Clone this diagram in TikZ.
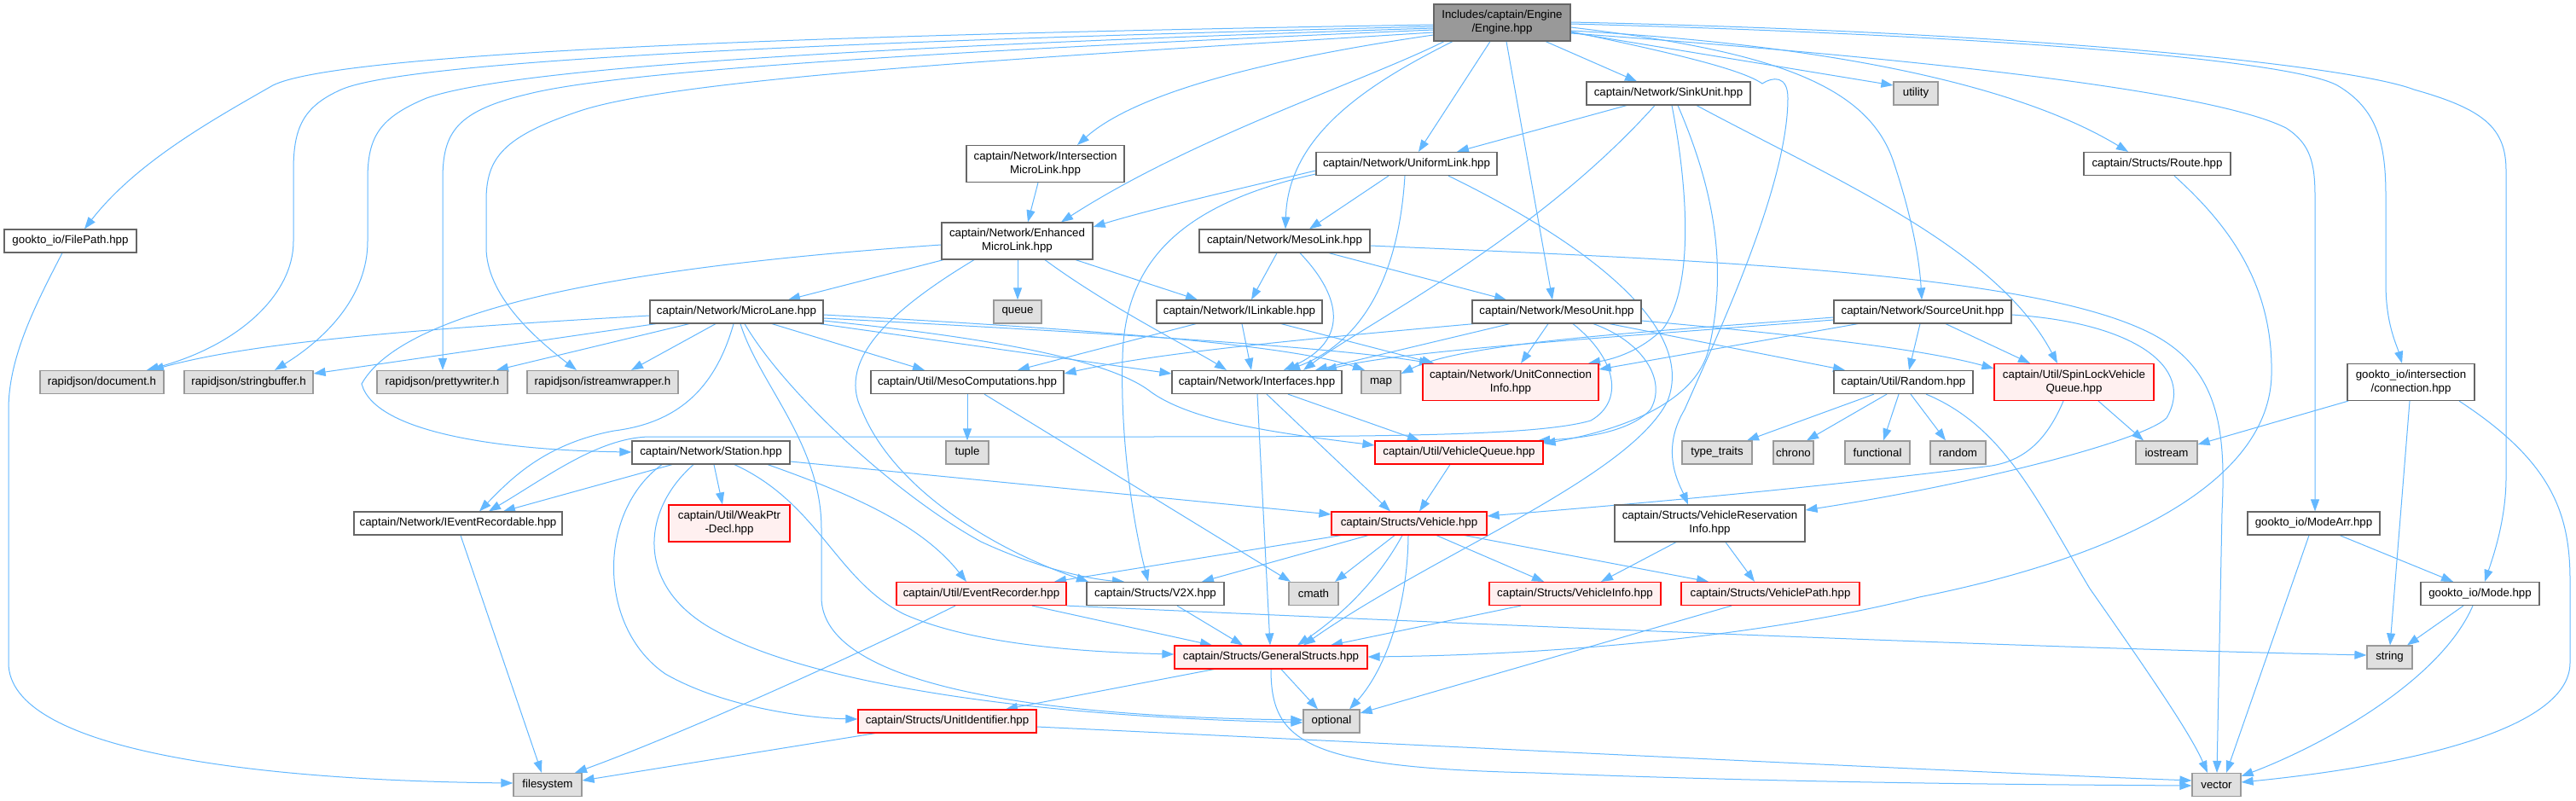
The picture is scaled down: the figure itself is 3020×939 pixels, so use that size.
\documentclass[tikz,border=0pt]{standalone}
\usepackage{fontspec}
\setmainfont{Liberation Sans}
\usetikzlibrary{arrows.meta}
\definecolor{edgeblue}{HTML}{63B8FF}
\definecolor{boxline}{HTML}{666666}
\definecolor{sysline}{HTML}{999999}
\definecolor{sysfill}{HTML}{E0E0E0}
\definecolor{redline}{HTML}{FF0000}
\definecolor{redfill}{HTML}{FFF0F0}
\definecolor{mainfill}{HTML}{999999}
\pgfdeclarelayer{bg}
\pgfsetlayers{bg,main}
\begin{document}
\begin{tikzpicture}[x=1pt,y=-1pt,
  plainbox/.style={draw=boxline, line width=1.2pt, fill=white, inner sep=0pt, minimum height=27pt,
    font=\fontsize{13.3pt}{16pt}\selectfont, align=center, text=black},
  sysbox/.style={plainbox, draw=sysline, fill=sysfill},
  redbox/.style={plainbox, draw=redline, fill=redfill},
  mainbox/.style={plainbox, fill=mainfill},
  twoline/.style={minimum height=43pt},
  dep/.style={draw=edgeblue, line width=1pt, -{Triangle[length=14pt,width=10pt]}}]

\useasboundingbox (0,0) rectangle (3020,939);

% ---------------- nodes ----------------
\node[mainbox, twoline, minimum width=160pt] (engine) at (1761,26.5) {Includes/captain/Engine\\/Engine.hpp};
\node[plainbox, minimum width=192pt] (sinkunit) at (1956,109.5) {captain/Network/SinkUnit.hpp};
\node[sysbox, minimum width=52pt] (utility) at (2246,109.5) {utility};
\node[plainbox, twoline, minimum width=185pt] (intermicro) at (1225.5,192) {captain/Network/Intersection\\MicroLink.hpp};
\node[plainbox, minimum width=212pt] (uniformlink) at (1649,192) {captain/Network/UniformLink.hpp};
\node[plainbox, minimum width=172pt] (route) at (2529,192) {captain/Structs/Route.hpp};
\node[plainbox, minimum width=155pt] (filepath) at (82.5,282.5) {gookto\_io/FilePath.hpp};
\node[plainbox, twoline, minimum width=177pt] (enhanced) at (1192.5,282.5) {captain/Network/Enhanced\\MicroLink.hpp};
\node[plainbox, minimum width=200pt] (mesolink) at (1506,282.5) {captain/Network/MesoLink.hpp};
\node[plainbox, minimum width=203pt] (microlane) at (863.5,365.5) {captain/Network/MicroLane.hpp};
\node[sysbox, minimum width=56pt] (queue) at (1193,365.5) {queue};
\node[plainbox, minimum width=194pt] (ilinkable) at (1453,365.5) {captain/Network/ILinkable.hpp};
\node[plainbox, minimum width=198pt] (mesounit) at (1825,365.5) {captain/Network/MesoUnit.hpp};
\node[plainbox, minimum width=208pt] (sourceunit) at (2254,365.5) {captain/Network/SourceUnit.hpp};

\node[sysbox, minimum width=145pt] (document) at (119.5,448) {rapidjson/document.h};
\node[sysbox, minimum width=151pt] (stringbuffer) at (291.5,448) {rapidjson/stringbuffer.h};
\node[sysbox, minimum width=153pt] (prettywriter) at (518.5,448) {rapidjson/prettywriter.h};
\node[sysbox, minimum width=177pt] (istreamwrapper) at (706.5,448) {rapidjson/istreamwrapper.h};
\node[plainbox, minimum width=226pt] (mesocomp) at (1134,448) {captain/Util/MesoComputations.hpp};
\node[plainbox, minimum width=199pt] (interfaces) at (1473.5,448) {captain/Network/Interfaces.hpp};
\node[sysbox, minimum width=46pt] (map) at (1619,448) {map};
\node[redbox, twoline, minimum width=206pt] (uci) at (1771,448) {captain/Network/UnitConnection\\Info.hpp};
\node[plainbox, minimum width=163pt] (randomh) at (2231.5,448) {captain/Util/Random.hpp};
\node[redbox, twoline, minimum width=187pt] (spinlock) at (2431.5,448) {captain/Util/SpinLockVehicle\\Queue.hpp};
\node[plainbox, twoline, minimum width=149pt] (connection) at (2826.5,448) {gookto\_io/intersection\\/connection.hpp};

\node[plainbox, minimum width=185pt] (station) at (833.5,530.5) {captain/Network/Station.hpp};
\node[sysbox, minimum width=50pt] (tuple) at (1134,530.5) {tuple};
\node[redbox, minimum width=197pt] (vqueue) at (1710.5,530.5) {captain/Util/VehicleQueue.hpp};
\node[sysbox, minimum width=82pt] (typetraits) at (2013,530.5) {type\_traits};
\node[sysbox, minimum width=47pt] (chrono) at (2102.5,530.5) {chrono};
\node[sysbox, minimum width=76pt] (functional) at (2201,530.5) {functional};
\node[sysbox, minimum width=65pt] (stdrandom) at (2295.5,530.5) {random};
\node[sysbox, minimum width=72pt] (iostream) at (2540,530.5) {iostream};

\node[plainbox, minimum width=244pt] (ievent) at (537,613.5) {captain/Network/IEventRecordable.hpp};
\node[redbox, twoline, minimum width=142pt] (weakptr) at (855,613.5) {captain/Util/WeakPtr\\-Decl.hpp};
\node[redbox, minimum width=182pt] (vehicle) at (1652,613.5) {captain/Structs/Vehicle.hpp};
\node[plainbox, twoline, minimum width=223pt] (vri) at (2004.5,613.5) {captain/Structs/VehicleReservation\\Info.hpp};
\node[plainbox, minimum width=155pt] (modearr) at (2712.5,613.5) {gookto\_io/ModeArr.hpp};

\node[redbox, minimum width=199pt] (eventrec) at (1150.5,696) {captain/Util/EventRecorder.hpp};
\node[plainbox, minimum width=161pt] (v2x) at (1354.5,696) {captain/Structs/V2X.hpp};
\node[sysbox, minimum width=58pt] (cmath) at (1540,696) {cmath};
\node[redbox, minimum width=201pt] (vinfo) at (1846.5,696) {captain/Structs/VehicleInfo.hpp};
\node[redbox, minimum width=209pt] (vpath) at (2075.5,696) {captain/Structs/VehiclePath.hpp};
\node[plainbox, minimum width=139pt] (mode) at (2907.5,696) {gookto\_io/Mode.hpp};

\node[redbox, minimum width=226pt] (general) at (1490,770.5) {captain/Structs/GeneralStructs.hpp};
\node[sysbox, minimum width=53pt] (string) at (2801.5,770.5) {string};
\node[redbox, minimum width=209pt] (unitid) at (1110.5,845.5) {captain/Structs/UnitIdentifier.hpp};
\node[sysbox, minimum width=66pt] (optional) at (1561,845.5) {optional};
\node[sysbox, minimum width=80pt] (filesystem) at (642,920) {filesystem};
\node[sysbox, minimum width=57pt] (vector) at (2598.5,920) {vector};

% ---------------- edges ----------------
\begin{pgfonlayer}{bg}
\fill[white] (0,0) rectangle (3020,939);
% Engine
\draw[dep] (engine.west |- 0,29) .. controls (1000,40) and (400,60) .. (320,100) .. controls (250,140) and (160,190) .. (filepath.north -| 99,0);
\draw[dep] (engine.west |- 0,31) .. controls (1000,48) and (480,70) .. (400,105) .. controls (355,125) and (344,150) .. (344,200) -- (344,283) .. controls (344,345) and (280,405) .. (document.north -| 172,0);
\draw[dep] (engine.west |- 0,33) .. controls (1000,55) and (600,80) .. (500,115) .. controls (445,138) and (431,160) .. (431,210) -- (431,283) .. controls (431,345) and (385,395) .. (stringbuffer.north -| 322,0);
\draw[dep] (engine.west |- 0,35) .. controls (1050,62) and (720,85) .. (620,110) .. controls (535,130) and (519,155) .. (519,210) -- (prettywriter.north -| 519,0);
\draw[dep] (engine.west |- 0,38) .. controls (1250,65) and (800,90) .. (680,130) .. controls (590,160) and (570,185) .. (570,235) -- (570,290) .. controls (570,345) and (625,395) .. (istreamwrapper.north -| 676,0);
\draw[dep] (engine.west |- 0,41) .. controls (1480,70) and (1330,110) .. (intermicro.north -| 1263,0);
\draw[dep] (engine.south -| 1693,0) .. controls (1600,95) and (1400,160) .. (enhanced.north -| 1244,0);
\draw[dep] (engine.south -| 1703,0) .. controls (1600,100) and (1510,160) .. (mesolink.north -| 1507,0);
\draw[dep] (engine.south -| 1747,0) -- (uniformlink.north -| 1663,0);
\draw[dep] (engine.south -| 1766,0) -- (mesounit.north -| 1820,0);
\draw[dep] (engine.south -| 1812,0) -- (sinkunit.north -| 1919,0);
\draw[dep] (engine.east |- 0,38) -- (utility.west |- 0,100);
\draw[dep] (engine.east |- 0,32) .. controls (2080,60) and (2190,100) .. (2220,190) .. controls (2240,250) and (2250,300) .. (sourceunit.north -| 2253,0);
\draw[dep] (engine.east |- 0,36) .. controls (2100,50) and (2350,90) .. (route.north -| 2495,0);
\draw[dep] (engine.east |- 0,37) .. controls (1950,60) and (2040,80) .. (2066,98) .. controls (2078,90) and (2096,88) .. (2096,115) .. controls (2096,220) and (2010,400) .. (1975,480) .. controls (1945,530) and (1970,570) .. (vri.north -| 1979,0);
\draw[dep] (engine.east |- 0,39) .. controls (2300,72) and (2600,110) .. (2680,150) .. controls (2708,168) and (2714,190) .. (2714,230) -- (modearr.north -| 2714,0);
\draw[dep] (engine.east |- 0,28) .. controls (2300,40) and (2680,68) .. (2740,100) .. controls (2788,128) and (2797,170) .. (2797,230) -- (2797,333) .. controls (2797,380) and (2810,405) .. (connection.north -| 2816,0);
\draw[dep] (engine.east |- 0,26) .. controls (2400,38) and (2760,78) .. (2830,105) .. controls (2912,128) and (2938,150) .. (2938,200) -- (2938,560) .. controls (2938,610) and (2922,655) .. (mode.north -| 2913,0);
% SinkUnit
\draw[dep] (sinkunit.south -| 1907,0) -- (uniformlink.north -| 1708,0);
\draw[dep] (sinkunit.south -| 1940,0) .. controls (1800,280) and (1600,380) .. (interfaces.north -| 1528,0);
\draw[dep] (sinkunit.south -| 1960,0) .. controls (1975,200) and (1990,330) .. (1950,385) .. controls (1920,415) and (1885,422) .. (uci.north -| 1862,0);
\draw[dep] (sinkunit.south -| 1967,0) .. controls (2000,200) and (2030,300) .. (2003,410) .. controls (1985,480) and (1880,508) .. (vqueue.east |- 0,520);
\draw[dep] (sinkunit.south -| 1989,0) .. controls (2150,210) and (2340,290) .. (spinlock.north -| 2412,0);
% IntersectionMicroLink
\draw[dep] (intermicro.south -| 1217,0) -- (enhanced.north -| 1205,0);
% UniformLink
\draw[dep] (uniformlink.west |- 0,200) .. controls (1450,222) and (1350,245) .. (enhanced.east |- 0,266);
\draw[dep] (uniformlink.south -| 1628,0) -- (mesolink.north -| 1535,0);
\draw[dep] (uniformlink.south -| 1647,0) .. controls (1640,320) and (1600,400) .. (interfaces.north -| 1510,0);
\draw[dep] (uniformlink.west |- 0,204) .. controls (1380,240) and (1318,310) .. (1316,420) .. controls (1313,520) and (1330,620) .. (v2x.north -| 1346,0);
\draw[dep] (uniformlink.south -| 1698,0) .. controls (1850,280) and (1990,380) .. (1955,470) .. controls (1910,560) and (1680,650) .. (general.north -| 1528,0);
% Route
\draw[dep] (route.south -| 2549,0) .. controls (2620,270) and (2665,340) .. (2663,440) .. controls (2660,560) and (2500,650) .. (2250,700) .. controls (2050,750) and (1800,768) .. (general.east |- 0,770);
% FilePath
\draw[dep] (filepath.south -| 73,0) .. controls (40,360) and (10,420) .. (10,480) -- (10,777) .. controls (10,880) and (300,915) .. (filesystem.west |- 0,918);
% EnhancedMicroLink
\draw[dep] (enhanced.south -| 1106,0) -- (microlane.north -| 924,0);
\draw[dep] (enhanced.south -| 1193,0) -- (queue.north);
\draw[dep] (enhanced.south -| 1261,0) -- (ilinkable.north -| 1404,0);
\draw[dep] (enhanced.south -| 1225,0) .. controls (1300,360) and (1400,410) .. (interfaces.north -| 1438,0);
\draw[dep] (enhanced.south -| 1142,0) .. controls (1050,360) and (980,420) .. (1010,480) .. controls (1050,580) and (1180,650) .. (v2x.north -| 1276,0);
\draw[dep] (enhanced.west |- 0,287) .. controls (800,308) and (480,350) .. (424,450) .. controls (440,510) and (600,528) .. (station.west |- 0,530);
% MesoLink
\draw[dep] (mesolink.south -| 1497,0) -- (ilinkable.north -| 1467,0);
\draw[dep] (mesolink.south -| 1524,0) .. controls (1575,350) and (1580,400) .. (interfaces.north -| 1505,0);
\draw[dep] (mesolink.south -| 1558,0) -- (mesounit.north -| 1766,0);
\draw[dep] (mesolink.east |- 0,288) .. controls (2000,305) and (2380,320) .. (2520,390) .. controls (2600,430) and (2610,500) .. (2605,600) -- (vector.north -| 2599,0);
% MicroLane
\draw[dep] (microlane.west |- 0,370) .. controls (500,385) and (300,400) .. (document.north -| 178,0);
\draw[dep] (microlane.south -| 769,0) -- (stringbuffer.east |- 0,438);
\draw[dep] (microlane.south -| 808,0) -- (prettywriter.north -| 582,0);
\draw[dep] (microlane.south -| 839,0) -- (istreamwrapper.north -| 740,0);
\draw[dep] (microlane.south -| 905,0) -- (mesocomp.north -| 1084,0);
\draw[dep] (microlane.south -| 961,0) -- (interfaces.west |- 0,438);
\draw[dep] (microlane.east |- 0,369) .. controls (1200,382) and (1500,400) .. (map.north -| 1600,0);
\draw[dep] (microlane.east |- 0,373) .. controls (1250,388) and (1550,405) .. (uci.north -| 1678,0);
\draw[dep] (microlane.east |- 0,376) .. controls (1150,395) and (1300,420) .. (1350,460) .. controls (1400,495) and (1500,508) .. (vqueue.west |- 0,522);
\draw[dep] (microlane.south -| 860,0) .. controls (840,450) and (800,495) .. (720,505) .. controls (640,520) and (600,560) .. (ievent.north -| 562,0);
\draw[dep] (microlane.south -| 868,0) .. controls (890,450) and (963,520) .. (963,620) -- (963,700) .. controls (963,800) and (1200,840) .. (optional.west |- 0,844);
\draw[dep] (microlane.south -| 873,0) .. controls (920,460) and (1050,580) .. (1150,635) .. controls (1230,672) and (1290,680) .. (v2x.north -| 1318,0);
% ILinkable
\draw[dep] (ilinkable.south -| 1402,0) -- (mesocomp.north -| 1193,0);
\draw[dep] (ilinkable.south -| 1456,0) -- (interfaces.north -| 1467,0);
\draw[dep] (ilinkable.south -| 1502,0) -- (uci.north -| 1681,0);
% MesoUnit
\draw[dep] (mesounit.south -| 1728,0) .. controls (1500,400) and (1350,415) .. (mesocomp.east |- 0,438);
\draw[dep] (mesounit.south -| 1770,0) -- (interfaces.north -| 1542,0);
\draw[dep] (mesounit.south -| 1815,0) -- (uci.north -| 1783,0);
\draw[dep] (mesounit.south -| 1868,0) .. controls (1925,400) and (1955,445) .. (1935,480) .. controls (1910,508) and (1850,514) .. (vqueue.north -| 1803,0);
\draw[dep] (mesounit.south -| 1844,0) .. controls (1895,420) and (1905,470) .. (1865,493) .. controls (1800,512) and (1600,512) .. (1300,512) -- (760,512) .. controls (700,514) and (640,560) .. (ievent.north -| 573,0);
\draw[dep] (mesounit.south -| 1887,0) -- (randomh.north -| 2163,0);
\draw[dep] (mesounit.east |- 0,376) .. controls (2100,392) and (2250,408) .. (spinlock.west |- 0,432);
% SourceUnit
\draw[dep] (sourceunit.west |- 0,372) .. controls (1950,388) and (1720,400) .. (map.east |- 0,438);
\draw[dep] (sourceunit.west |- 0,375) .. controls (1900,395) and (1650,410) .. (interfaces.north -| 1553,0);
\draw[dep] (sourceunit.south -| 2178,0) -- (uci.east |- 0,433);
\draw[dep] (sourceunit.south -| 2251,0) -- (randomh.north -| 2238,0);
\draw[dep] (sourceunit.south -| 2281,0) -- (spinlock.north -| 2380,0);
\draw[dep] (sourceunit.east |- 0,369) .. controls (2500,378) and (2575,430) .. (2540,490) .. controls (2515,515) and (2330,565) .. (vri.east |- 0,598);
% Random
\draw[dep] (randomh.south -| 2197,0) -- (typetraits.north -| 2048,0);
\draw[dep] (randomh.south -| 2212,0) -- (chrono.north -| 2118,0);
\draw[dep] (randomh.south -| 2226,0) -- (functional.north -| 2208,0);
\draw[dep] (randomh.south -| 2240,0) -- (stdrandom.north -| 2281,0);
\draw[dep] (randomh.south -| 2258,0) .. controls (2350,500) and (2390,590) .. (2450,690) .. controls (2520,790) and (2568,860) .. (vector.north -| 2588,0);
% SpinLockVehicleQueue
\draw[dep] (spinlock.south -| 2419,0) .. controls (2398,520) and (2370,540) .. (2335,546) .. controls (2100,575) and (1900,592) .. (vehicle.east |- 0,605);
\draw[dep] (spinlock.south -| 2460,0) -- (iostream.north -| 2513,0);
% connection
\draw[dep] (connection.south -| 2753,0) -- (iostream.east |- 0,521);
\draw[dep] (connection.south -| 2825,0) -- (string.north -| 2802,0);
\draw[dep] (connection.south -| 2883,0) .. controls (2990,540) and (3013,600) .. (3013,680) -- (3013,777) .. controls (3013,860) and (2800,900) .. (vector.east |- 0,917);
% ModeArr / Mode
\draw[dep] (modearr.south -| 2743,0) -- (mode.north -| 2876,0);
\draw[dep] (modearr.south -| 2707,0) -- (vector.north -| 2610,0);
\draw[dep] (mode.south -| 2888,0) -- (string.north -| 2822,0);
\draw[dep] (mode.south -| 2899,0) .. controls (2860,800) and (2720,875) .. (vector.east |- 0,910);
% Station
\draw[dep] (station.south -| 788,0) -- (ievent.north -| 590,0);
\draw[dep] (station.south -| 837,0) -- (weakptr.north -| 847,0);
\draw[dep] (station.south -| 900,0) .. controls (1000,580) and (1080,615) .. (eventrec.north -| 1133,0);
\draw[dep] (station.south -| 861,0) .. controls (960,590) and (980,680) .. (1060,720) .. controls (1150,760) and (1300,765) .. (general.west |- 0,767);
\draw[dep] (station.east |- 0,541) -- (vehicle.west |- 0,603);
\draw[dep] (station.south -| 813,0) .. controls (750,600) and (745,690) .. (840,740) .. controls (950,800) and (1200,840) .. (optional.west |- 0,847);
\draw[dep] (station.south -| 776,0) .. controls (700,600) and (700,735) .. (780,790) .. controls (850,830) and (950,842) .. (unitid.west |- 0,843);
% VehicleQueue / Interfaces
\draw[dep] (vqueue.south -| 1700,0) -- (vehicle.north -| 1664,0);
\draw[dep] (interfaces.south -| 1510,0) -- (vqueue.north -| 1664,0);
\draw[dep] (interfaces.south -| 1485,0) -- (vehicle.north -| 1630,0);
\draw[dep] (interfaces.south -| 1474,0) -- (general.north -| 1489,0);
% Vehicle
\draw[dep] (vehicle.south -| 1572,0) -- (eventrec.north -| 1236,0);
\draw[dep] (vehicle.south -| 1604,0) -- (v2x.north -| 1409,0);
\draw[dep] (vehicle.south -| 1635,0) -- (cmath.north -| 1565,0);
\draw[dep] (vehicle.south -| 1644,0) .. controls (1610,690) and (1560,730) .. (general.north -| 1521,0);
\draw[dep] (vehicle.south -| 1651,0) .. controls (1650,720) and (1620,790) .. (optional.north -| 1582,0);
\draw[dep] (vehicle.south -| 1684,0) -- (vinfo.north -| 1810,0);
\draw[dep] (vehicle.south -| 1717,0) -- (vpath.north -| 2003,0);
% VehicleReservationInfo
\draw[dep] (vri.south -| 1965,0) -- (vinfo.north -| 1877,0);
\draw[dep] (vri.south -| 2023,0) -- (vpath.north -| 2057,0);
% MesoComputations
\draw[dep] (mesocomp.south) -- (tuple.north);
\draw[dep] (mesocomp.south -| 1154,0) -- (cmath.north -| 1513,0);
% EventRecorder
\draw[dep] (eventrec.south -| 1210,0) -- (general.north -| 1421,0);
\draw[dep] (eventrec.south east) .. controls (1800,735) and (2400,760) .. (string.west |- 0,768);
\draw[dep] (eventrec.south -| 1120,0) .. controls (1000,770) and (800,860) .. (filesystem.north -| 674,0);
% V2X, VehicleInfo, VehiclePath
\draw[dep] (v2x.south -| 1380,0) -- (general.north -| 1457,0);
\draw[dep] (vinfo.south -| 1783,0) -- (general.north -| 1560,0);
\draw[dep] (vpath.south -| 2030,0) -- (optional.east |- 0,836);
% GeneralStructs
\draw[dep] (general.south -| 1423,0) -- (unitid.north -| 1179,0);
\draw[dep] (general.south -| 1502,0) -- (optional.north -| 1545,0);
\draw[dep] (general.south -| 1490,0) .. controls (1490,870) and (1530,900) .. (1800,906) .. controls (2100,918) and (2400,920) .. (vector.west |- 0,921);
% UnitIdentifier
\draw[dep] (unitid.east |- 0,852) .. controls (1700,875) and (2300,905) .. (vector.west |- 0,915);
\draw[dep] (unitid.south -| 1026,0) -- (filesystem.east |- 0,915);
% IEventRecordable
\draw[dep] (ievent.south -| 540,0) -- (filesystem.north -| 635,0);
\end{pgfonlayer}
\end{tikzpicture}
\end{document}
